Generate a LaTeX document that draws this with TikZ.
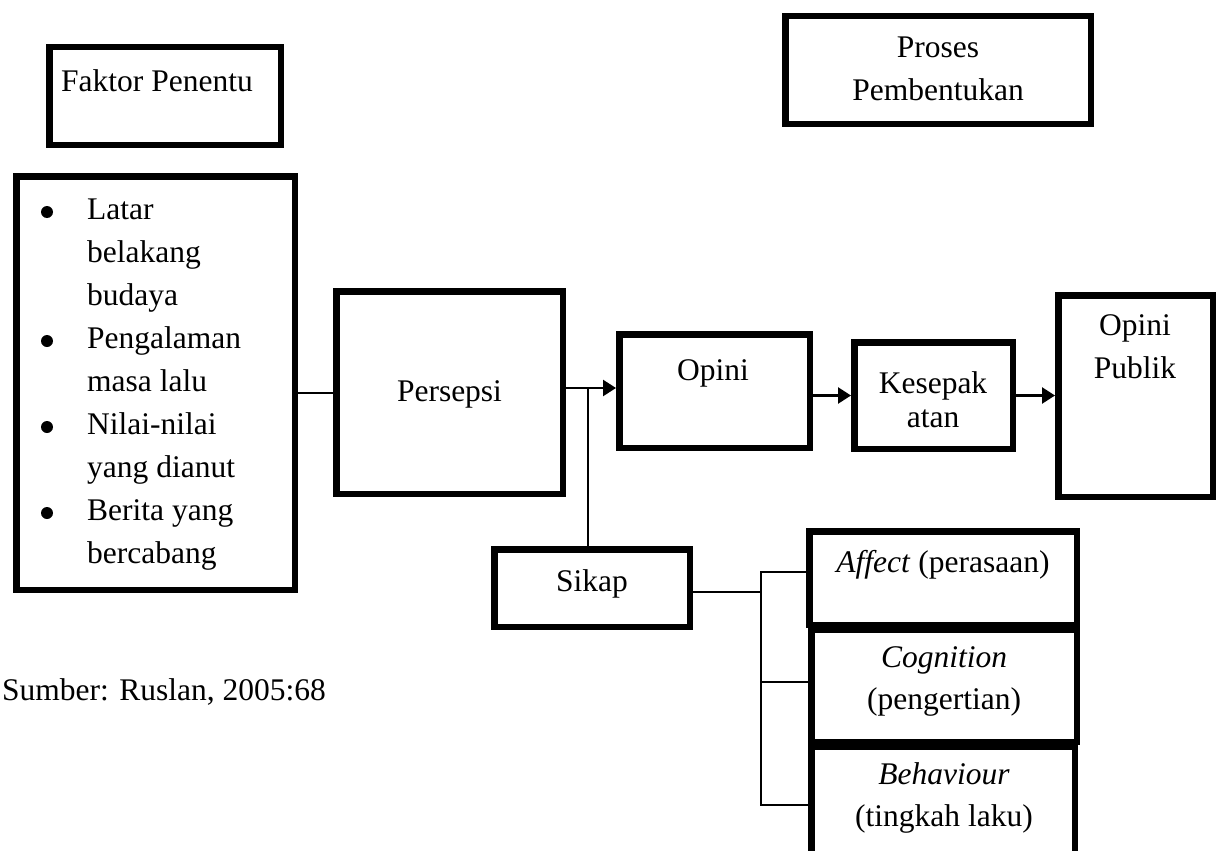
\documentclass[tikz,border=0pt]{standalone}
\usepackage{fontspec}
\setmainfont{Liberation Serif}
\usetikzlibrary{arrows.meta}
\tikzset{
  box/.style={draw=black, line width=6.5pt, rectangle, inner sep=0pt},
  txt/.style={anchor=base, inner sep=0pt, font=\fontsize{31.5}{38}\selectfont},
  ltxt/.style={anchor=base west, inner sep=0pt, font=\fontsize{31.5}{38}\selectfont},
  conn/.style={draw=black, line width=2pt},
  arr/.style={draw=black, line width=2.5pt, -{Triangle[length=13pt,width=16pt]}},
}
\begin{document}
\begin{tikzpicture}[x=1pt,y=-1pt]
\useasboundingbox (0,0) rectangle (1223,851);
\clip (0,0) rectangle (1223,851);
% boxes
\node[box, minimum width=231.5pt, minimum height=97.5pt] (fp) at (165,96) {};
\node[box, minimum width=305.5pt, minimum height=107.5pt] (pp) at (938,70) {};
\node[box, minimum width=278.5pt, minimum height=413.5pt] (list) at (155.5,383) {};
\node[box, minimum width=226.5pt, minimum height=202.5pt] (persepsi) at (449.5,392.5) {};
\node[box, minimum width=190.5pt, minimum height=113.5pt] (opini) at (714.5,391) {};
\node[box, minimum width=158.5pt, minimum height=106.5pt] (kes) at (933.5,395.5) {};
\node[box, minimum width=154.5pt, minimum height=201.5pt] (op) at (1135.5,396) {};
\node[box, minimum width=195.5pt, minimum height=77.5pt] (sikap) at (592,588) {};
\node[box, minimum width=267.5pt, minimum height=93.5pt] (affect) at (943,578) {};
\node[box, minimum width=265.5pt, minimum height=112.5pt] (cog) at (944,685.5) {};
\node[box, minimum width=263.5pt, minimum height=130.5pt] (beh) at (943,811.5) {};
% texts
\node[ltxt] (tfp) at (61,91) {Faktor Penentu};
\node[txt] (tpp1) at (938,58) {Proses};
\node[txt] (tpp2) at (938,100) {Pembentukan};
\foreach \y in {212,341,427,513} {\fill (47,\y) circle (6pt);}
\node[ltxt] (l1) at (87,219) {Latar};
\node[ltxt] (l2) at (87,262) {belakang};
\node[ltxt] (l3) at (87,305) {budaya};
\node[ltxt] (l4) at (87,348) {Pengalaman};
\node[ltxt] (l5) at (87,391) {masa lalu};
\node[ltxt] (l6) at (87,434) {Nilai-nilai};
\node[ltxt] (l7) at (87,477) {yang dianut};
\node[ltxt] (l8) at (87,520) {Berita yang};
\node[ltxt] (l9) at (87,563) {bercabang};
\node[txt] (tpers) at (449.5,401) {Persepsi};
\node[txt] (topini) at (713,380) {Opini};
\node[txt] (tkes1) at (933,393) {Kesepak};
\node[txt] (tkes2) at (933,427) {atan};
\node[txt] (top1) at (1135,335) {Opini};
\node[txt] (top2) at (1135,378) {Publik};
\node[txt] (tsikap) at (592,591) {Sikap};
\node[txt] (taff) at (943,572) {\textit{Affect} (perasaan)};
\node[txt] (tcog1) at (944,667) {\textit{Cognition}};
\node[txt] (tcog2) at (944,709) {(pengertian)};
\node[txt] (tbeh1) at (944,784) {\textit{Behaviour}};
\node[txt] (tbeh2) at (944,826) {(tingkah laku)};
\node[ltxt] (src) at (2,700) {Sumber: Ruslan, 2005:68};
% connectors
\draw[conn] (persepsi.west -| list.east) -- (persepsi.west);
\coordinate (j) at (588,388);
\draw[arr] (j -| persepsi.east) -- (j -| opini.west);
\draw[conn] (j) -- (j |- sikap.north);
\draw[arr] (opini.east |- kes.west) -- (kes.west);
\draw[arr] (kes.east) -- (kes.east -| op.west);
\coordinate (b) at (761,592);
\coordinate (b1) at (761,572);
\coordinate (b2) at (761,682);
\coordinate (b3) at (761,805);
\draw[conn] (sikap.east |- b) -- (b);
\draw[conn] (b1 -| affect.west) -- (b1) -- (b3) -- (b3 -| beh.west);
\draw[conn] (b2) -- (b2 -| cog.west);
\end{tikzpicture}
\end{document}
